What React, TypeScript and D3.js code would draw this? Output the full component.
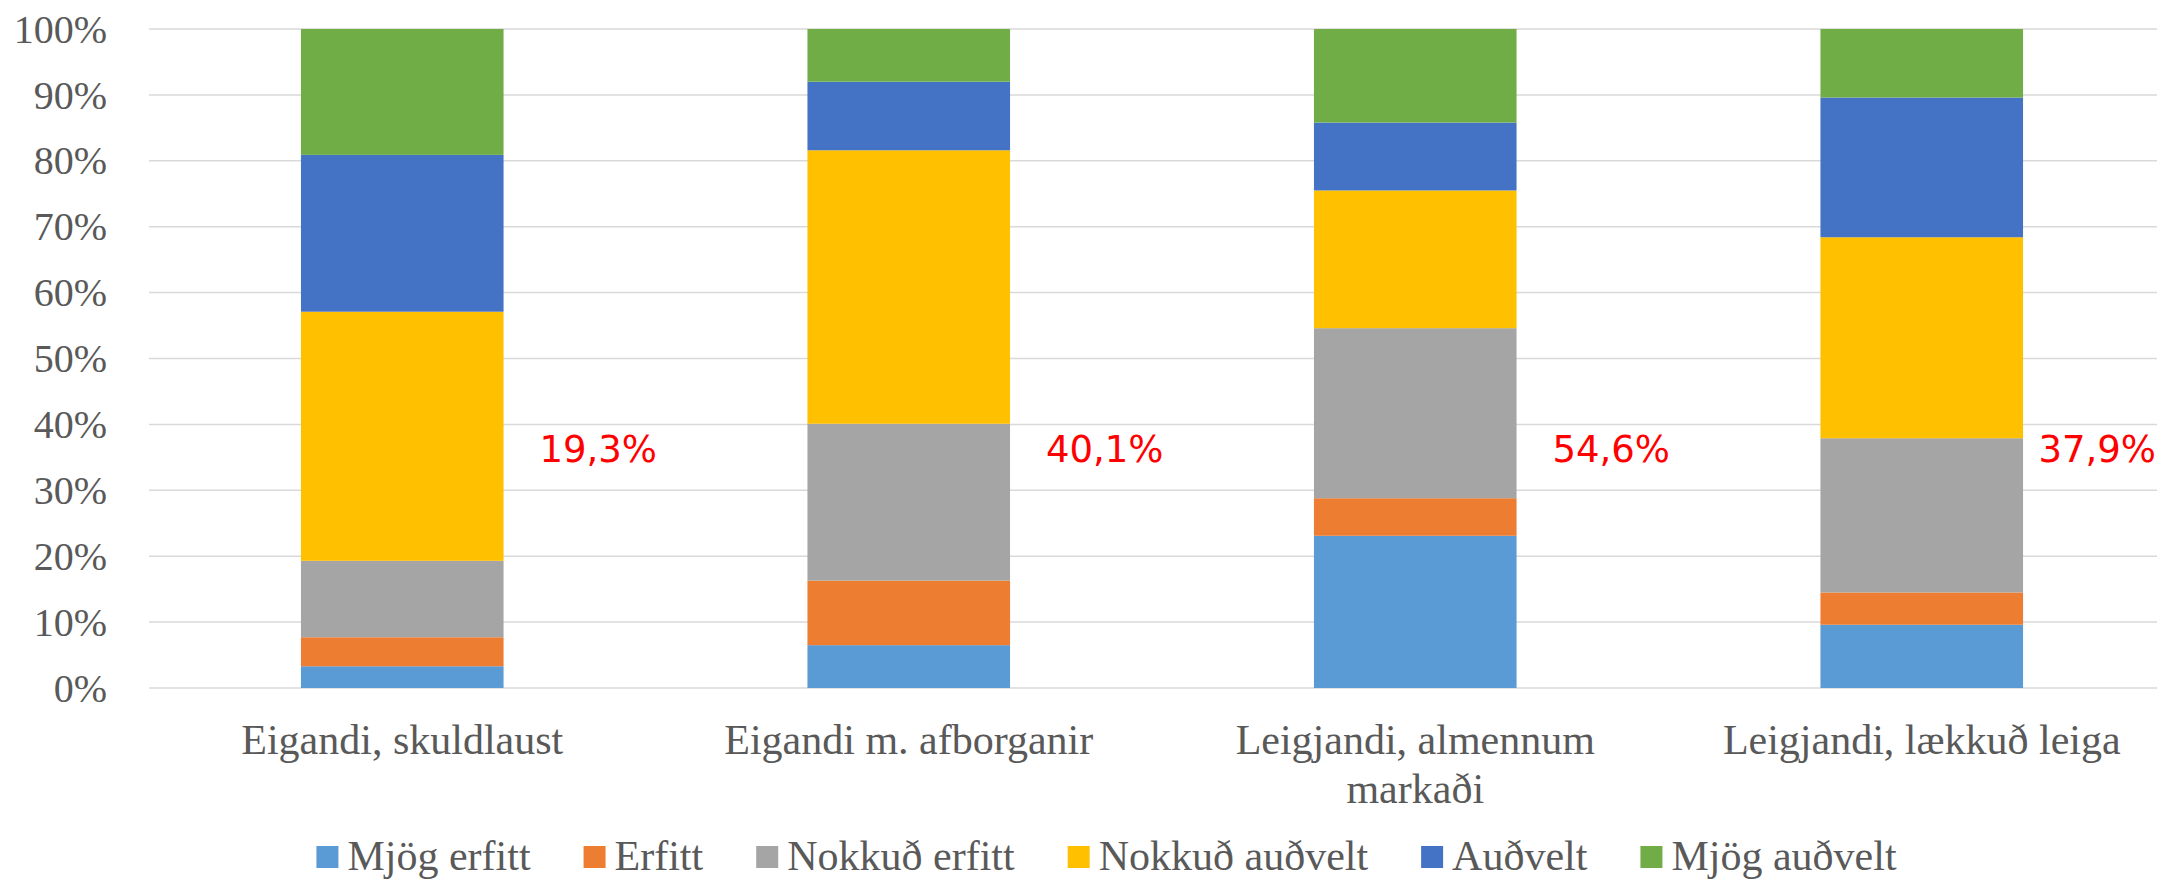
import React, { useEffect, useRef } from 'react';
import * as d3 from 'd3';

const categories = ['Eigandi, skuldlaust', 'Eigandi m. afborganir', 'Leigjandi, almennum markaði', 'Leigjandi, lækkuð leiga'];
const categoryLines = [['Eigandi, skuldlaust'], ['Eigandi m. afborganir'], ['Leigjandi, almennum', 'markaði'], ['Leigjandi, lækkuð leiga']];

const seriesNames = ['Mjög erfitt', 'Erfitt', 'Nokkuð erfitt', 'Nokkuð auðvelt', 'Auðvelt', 'Mjög auðvelt'];
const seriesColors = ['#5B9BD5', '#ED7D31', '#A5A5A5', '#FFC000', '#4472C4', '#70AD47'];

// share of respondents (%) per category, one array per series
const mjogErfitt = [3.3, 6.5, 23.1, 9.6];
const erfitt = [4.4, 9.8, 5.7, 4.9];
const nokkudErfitt = [11.6, 23.8, 25.8, 23.4];
const nokkudAudvelt = [37.8, 41.5, 20.9, 30.5];
const audvelt = [23.8, 10.4, 10.3, 21.2];
const mjogAudvelt = [19.1, 8.0, 14.2, 10.4];

// red annotation: total of the three "difficult" answers
const difficultLabels = ['19,3%', '40,1%', '54,6%', '37,9%'];

const yTicks = [0, 10, 20, 30, 40, 50, 60, 70, 80, 90, 100];

const W = 2157;
const H = 880;
const serif = "'Liberation Serif', 'Times New Roman', serif";

export default function App() {
  const svgRef = useRef<SVGSVGElement | null>(null);

  useEffect(() => {
    if (!svgRef.current) return;
    const svg = d3.select(svgRef.current);
    svg.selectAll('*').remove();

    const allSeries = [mjogErfitt, erfitt, nokkudErfitt, nokkudAudvelt, audvelt, mjogAudvelt];
    const rows = categories.map((c, i) => {
      const row: any = { cat: c };
      seriesNames.forEach((s, j) => { row[s] = allSeries[j][i]; });
      return row;
    });
    const stacked = d3.stack().keys(seriesNames)(rows);

    const x = d3.scaleBand()
      .domain(categories)
      .range([149, 2175])
      .paddingInner(0.6)
      .paddingOuter(0.3);

    const y = d3.scaleLinear().domain([0, 100]).range([688, 29]);

    // gridlines
    svg.append('g')
      .selectAll('line')
      .data(yTicks)
      .enter()
      .append('line')
      .attr('x1', 149)
      .attr('x2', 2175)
      .attr('y1', d => y(d))
      .attr('y2', d => y(d))
      .attr('stroke', '#d9d9d9')
      .attr('stroke-width', 1.5);

    // y tick labels
    svg.append('g')
      .selectAll('text')
      .data(yTicks)
      .enter()
      .append('text')
      .attr('x', 107)
      .attr('y', d => y(d))
      .attr('dy', '0.34em')
      .attr('text-anchor', 'end')
      .attr('font-family', serif)
      .attr('font-size', 40)
      .attr('fill', '#595959')
      .text(d => `${d}%`);

    // stacked bars
    svg.append('g')
      .selectAll('g')
      .data(stacked)
      .enter()
      .append('g')
      .attr('fill', (_d, i) => seriesColors[i])
      .selectAll('rect')
      .data(d => d)
      .enter()
      .append('rect')
      .attr('x', d => x(d.data.cat as string) as number)
      .attr('width', x.bandwidth())
      .attr('y', d => y(d[1]))
      .attr('height', d => y(d[0]) - y(d[1]));

    // category labels
    const catG = svg.append('g');
    categories.forEach((c, i) => {
      const cx = (x(c) as number) + x.bandwidth() / 2;
      categoryLines[i].forEach((line, k) => {
        catG.append('text')
          .attr('x', cx)
          .attr('y', 754 + k * 49)
          .attr('text-anchor', 'middle')
          .attr('font-family', serif)
          .attr('font-size', 42)
          .attr('fill', '#595959')
          .text(line);
      });
    });

    // red annotations
    const annG = svg.append('g');
    categories.forEach((c, i) => {
      const t = annG.append('text')
        .attr('y', 462)
        .attr('text-anchor', 'middle')
        .attr('font-family', "'DejaVu Sans', Verdana, sans-serif")
        .attr('font-size', 37)
        .attr('fill', '#FF0000')
        .text(difficultLabels[i]);
      const tw = (t.node() as SVGTextElement).getComputedTextLength();
      let cx = (x(c) as number) + x.bandwidth() / 2 + 196;
      if (cx + tw / 2 > W - 1) cx = W - 1 - tw / 2;
      t.attr('x', cx);
    });

    // legend
    const legG = svg.append('g');
    const sq = 22;
    const gapIn = 9;
    const gapOut = 53;
    const items = seriesNames.map((name, i) => {
      const g = legG.append('g');
      g.append('rect')
        .attr('width', sq)
        .attr('height', sq)
        .attr('y', 846)
        .attr('fill', seriesColors[i]);
      const t = g.append('text')
        .attr('x', sq + gapIn)
        .attr('y', 870)
        .attr('font-family', serif)
        .attr('font-size', 42)
        .attr('fill', '#595959')
        .text(name);
      const tw = (t.node() as SVGTextElement).getComputedTextLength();
      return { g, w: sq + gapIn + tw };
    });
    const total = d3.sum(items, d => d.w) + gapOut * (items.length - 1);
    let cursor = 1106.5 - total / 2;
    items.forEach(it => {
      it.g.attr('transform', `translate(${cursor},0)`);
      cursor += it.w + gapOut;
    });
  }, []);

  return (
    <svg
      ref={svgRef}
      width={W}
      height={H}
      style={{ position: 'absolute', left: 0, top: 0, background: '#fff', display: 'block' }}
    />
  );
}
